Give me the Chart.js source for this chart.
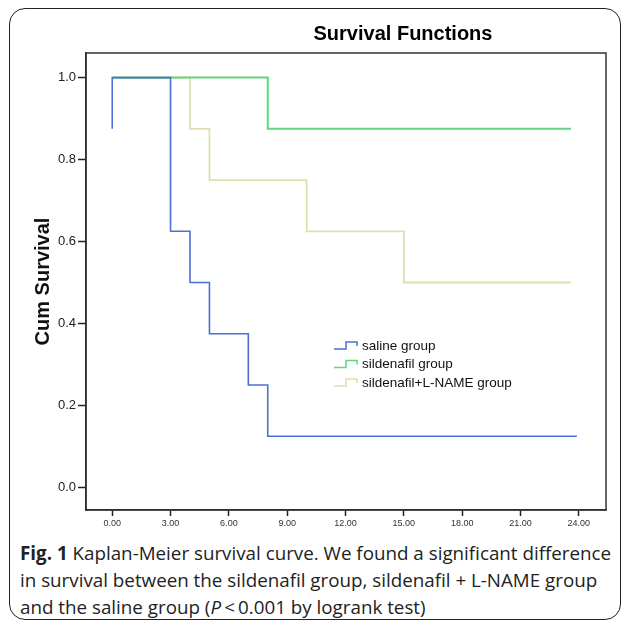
<!DOCTYPE html>
<html lang="en">
  <head>
    <meta charset="UTF-8" />
    <title>Survival Functions</title>
    <script src="https://cdn.jsdelivr.net/npm/chart.js"></script>
    <style>
      body {
        margin: 0;
        background: #fff;
        font-family: "Liberation Sans", Arial, sans-serif;
      }
      .frame {
        position: absolute;
        left: 9px;
        top: 8px;
        width: 610px;
        height: 610px;
        border: 1.5px solid #222;
        border-radius: 16px;
      }
      .title {
        position: absolute;
        left: 283px;
        top: 22px;
        width: 240px;
        text-align: center;
        font-weight: bold;
        font-size: 20px;
      }
      #chartBox {
        position: absolute;
        left: 0;
        top: 0;
        width: 627px;
        height: 540px;
      }
      .caption {
        position: absolute;
        left: 20px;
        top: 540px;
        width: 600px;
        font-family: "Open Sans", sans-serif;
        font-size: 18.8px;
        line-height: 27px;
        color: #222;
        white-space: nowrap;
      }
    </style>
  </head>
  <body>
    <div class="frame"></div>
    <div id="chartBox"><canvas id="kmChart"></canvas></div>
    <div class="title">Survival Functions</div>
    <div class="caption">
      <b>Fig. 1</b> Kaplan-Meier survival curve. We found a significant difference<br />
      in survival between the sildenafil group, sildenafil + L-NAME group<br />
      and the saline group (<i>P</i>&thinsp;&lt;&thinsp;0.001 by logrank test)
    </div>

    <script>
      // Kaplan-Meier step points (time, cumulative survival)
      const salineTimes = [0, 0, 3, 4, 5, 7, 8, 23.9];
      const salineSurv = [0.875, 1.0, 0.625, 0.5, 0.375, 0.25, 0.125, 0.125];

      const sildTimes = [0, 8, 23.6];
      const sildSurv = [1.0, 0.875, 0.875];

      const lnameTimes = [0, 4, 5, 10, 15, 23.6];
      const lnameSurv = [1.0, 0.875, 0.75, 0.625, 0.5, 0.5];

      const xTicks = [0, 3, 6, 9, 12, 15, 18, 21, 24];
      const yTicks = [0, 0.2, 0.4, 0.6, 0.8, 1.0];

      const seriesNames = ["saline group", "sildenafil group", "sildenafil+L-NAME group"];
      const seriesColors = ["#4f6fd4", "#5fd67f", "#e2ddb0"];

      function toPoints(xs, ys) {
        return xs.map((x, i) => ({ x: x, y: ys[i] }));
      }

      // frame round the plot area
      const framePlugin = {
        id: "plotFrame",
        afterDraw(chart) {
          const a = chart.chartArea;
          const ctx = chart.ctx;
          ctx.save();
          ctx.strokeStyle = "#333";
          ctx.lineWidth = 1.5;
          ctx.strokeRect(a.left, a.top, a.right - a.left, a.bottom - a.top);
          ctx.restore();
        },
      };

      // SPSS style legend with little step icons
      const stepLegend = {
        id: "stepLegend",
        afterDatasetsDraw(chart) {
          const ctx = chart.ctx;
          const x0 = 334;
          let y = 346;
          ctx.save();
          ctx.font = "13.5px 'Liberation Sans', Arial, sans-serif";
          ctx.textBaseline = "middle";
          chart.data.datasets.forEach((ds) => {
            ctx.strokeStyle = ds.borderColor;
            ctx.lineWidth = 1.5;
            ctx.beginPath();
            ctx.moveTo(x0, y + 3);
            ctx.lineTo(x0 + 12, y + 3);
            ctx.lineTo(x0 + 12, y - 4);
            ctx.lineTo(x0 + 23, y - 4);
            ctx.lineTo(x0 + 23, y);
            ctx.stroke();
            ctx.fillStyle = "#111";
            ctx.fillText(ds.label, x0 + 28, y);
            y += 18.5;
          });
          ctx.restore();
        },
      };

      const ctx = document.getElementById("kmChart").getContext("2d");
      new Chart(ctx, {
        type: "line",
        data: {
          datasets: [
            {
              label: seriesNames[0],
              data: toPoints(salineTimes, salineSurv),
              borderColor: seriesColors[0],
              borderWidth: 1.6,
              stepped: "before",
              pointRadius: 0,
              fill: false,
            },
            {
              label: seriesNames[1],
              data: toPoints(sildTimes, sildSurv),
              borderColor: seriesColors[1],
              borderWidth: 2,
              stepped: "before",
              pointRadius: 0,
              fill: false,
            },
            {
              label: seriesNames[2],
              data: toPoints(lnameTimes, lnameSurv),
              borderColor: seriesColors[2],
              borderWidth: 1.8,
              stepped: "before",
              pointRadius: 0,
              fill: false,
            },
          ],
        },
        options: {
          responsive: true,
          maintainAspectRatio: false,
          animation: false,
          layout: { padding: { top: 53, right: 21, left: 0, bottom: 0 } },
          plugins: {
            legend: { display: false },
            tooltip: { enabled: false },
          },
          scales: {
            x: {
              type: "linear",
              min: -1.35,
              max: 25.4,
              afterBuildTicks(scale) {
                scale.ticks = xTicks.map((v) => ({ value: v }));
              },
              afterFit(scale) {
                scale.height = 30;
              },
              grid: {
                drawOnChartArea: false,
                tickLength: 6,
                tickWidth: 1.5,
                tickColor: "#222",
              },
              border: { color: "#222", width: 1.5 },
              ticks: {
                padding: 2,
                maxRotation: 0,
                autoSkip: false,
                color: "#333",
                font: { family: "'Liberation Sans Narrow', 'Liberation Sans', Arial", size: 9 },
                callback: (v) => v.toFixed(2),
              },
            },
            y: {
              min: -0.055,
              max: 1.06,
              afterBuildTicks(scale) {
                scale.ticks = yTicks.map((v) => ({ value: v }));
              },
              afterFit(scale) {
                scale.width = 86;
              },
              grid: {
                drawOnChartArea: false,
                tickLength: 8,
                tickWidth: 1.5,
                tickColor: "#222",
              },
              border: { color: "#222", width: 1.5 },
              ticks: {
                padding: 2,
                color: "#222",
                font: { family: "'Liberation Sans', Arial", size: 13 },
                callback: (v) => v.toFixed(1),
              },
              title: {
                display: true,
                text: "Cum Survival",
                color: "#111",
                font: { family: "'Liberation Sans', Arial", size: 20, weight: "bold" },
                padding: { top: 31, bottom: 0 },
              },
            },
          },
        },
        plugins: [framePlugin, stepLegend],
      });
    </script>
  </body>
</html>
